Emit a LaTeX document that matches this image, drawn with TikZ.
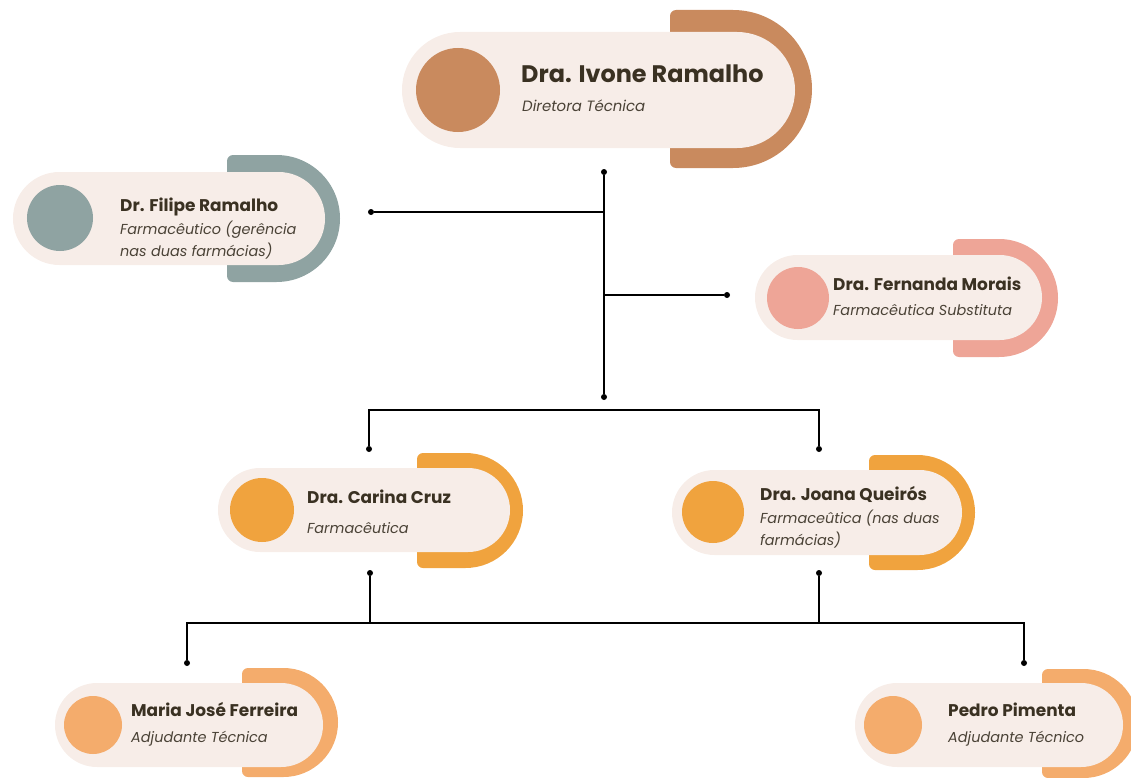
\documentclass[tikz,border=0pt]{standalone}
\usepackage{fontspec}
\setmainfont{Poppins}
\definecolor{pillbg}{HTML}{F7EDE8}
\definecolor{ink}{HTML}{3A3122}
\definecolor{inksub}{HTML}{4A4236}
\definecolor{ivonec}{HTML}{C98A5E}
\definecolor{filipec}{HTML}{8FA3A2}
\definecolor{fernandac}{HTML}{EEA597}
\definecolor{farmac}{HTML}{F0A33E}
\definecolor{adjc}{HTML}{F4AC6C}

\begin{document}
\begin{tikzpicture}[x=1bp,y=-1bp,
  pill/.style={fill=pillbg,inner sep=0pt,rounded corners=#1},
  face/.style={circle,fill=#1,inner sep=0pt},
  personname/.style={anchor=base west,inner sep=0pt,text=ink,font=\bfseries\fontsize{17}{20}\selectfont},
  personrole/.style={anchor=base west,inner sep=0pt,text=inksub,align=left,font=\itshape\fontsize{14.5}{21.5}\selectfont},
  dot/.style={circle,fill=black,inner sep=0pt,minimum size=6bp},
  link/.style={line width=1.3bp,black}]
\useasboundingbox (0,0) rectangle (1131,778);

\fill[ivonec] (676,10) -- (733,10) arc(-90:90:79) -- (676,168) arc(90:180:6) -- (670,16) arc(180:270:6) -- cycle;
\node[pill=58bp,minimum width=393bp,minimum height=116bp] (ivone) at (598.5,90) {};
\node[face=ivonec,minimum size=84bp] (ivoneface) at (458,90) {};
\node[personname,font=\bfseries\fontsize{24}{28}\selectfont] (ivonename) at (521,83) {Dra. Ivone Ramalho};
\node[personrole,font=\itshape\fontsize{15}{18}\selectfont] (ivonerole) at (522,112) {Diretora Técnica};

\fill[filipec] (233,155) -- (276.5,155) arc(-90:90:63.5) -- (233,282) arc(90:180:6) -- (227,161) arc(180:270:6) -- cycle;
\node[pill=46.5bp,minimum width=312bp,minimum height=93bp] (filipe) at (169,218.5) {};
\node[face=filipec,minimum size=66bp] (filipeface) at (60,218) {};
\node[personname] (filipename) at (120,211) {Dr. Filipe Ramalho};
\node[personrole] (filiperole) at (120,256) {Farmacêutico (gerência\\nas duas farmácias)};

\fill[fernandac] (959,239) -- (999,239) arc(-90:90:59) -- (959,357) arc(90:180:6) -- (953,245) arc(180:270:6) -- cycle;
\node[pill=42.5bp,minimum width=287bp,minimum height=85bp] (fernanda) at (898.5,297.5) {};
\node[face=fernandac,minimum size=62bp] (fernandaface) at (798,298) {};
\node[personname] (fernandaname) at (833,290) {Dra. Fernanda Morais};
\node[personrole] (fernandarole) at (833,315) {Farmacêutica Substituta};

\fill[farmac] (423,453) -- (465.5,453) arc(-90:90:57.5) -- (423,568) arc(90:180:6) -- (417,459) arc(180:270:6) -- cycle;
\node[pill=42bp,minimum width=292bp,minimum height=84bp] (carina) at (364,510) {};
\node[face=farmac,minimum size=64bp] (carinaface) at (262,510) {};
\node[personname] (carinaname) at (307,503) {Dra. Carina Cruz};
\node[personrole] (carinarole) at (307,533) {Farmacêutica};

\fill[farmac] (875,455) -- (917.5,455) arc(-90:90:57.5) -- (875,570) arc(90:180:6) -- (869,461) arc(180:270:6) -- cycle;
\node[pill=42.5bp,minimum width=290bp,minimum height=85bp] (joana) at (817,512.5) {};
\node[face=farmac,minimum size=62bp] (joanaface) at (713,512) {};
\node[personname] (joananame) at (760,500) {Dra. Joana Queirós};
\node[personrole] (joanarole) at (760,545) {Farmaceûtica (nas duas\\farmácias)};

\fill[adjc] (248,668) -- (283.5,668) arc(-90:90:54.5) -- (248,777) arc(90:180:6) -- (242,674) arc(180:270:6) -- cycle;
\node[pill=42bp,minimum width=268bp,minimum height=84bp] (maria) at (189,725) {};
\node[face=adjc,minimum size=58bp] (mariaface) at (93,725) {};
\node[personname] (marianame) at (131,716) {Maria José Ferreira};
\node[personrole] (mariarole) at (131,742) {Adjudante Técnica};

\fill[adjc] (1048,669) -- (1083.5,669) arc(-90:90:54.5) -- (1048,778) arc(90:180:6) -- (1042,675) arc(180:270:6) -- cycle;
\node[pill=42bp,minimum width=268bp,minimum height=84bp] (pedro) at (989,725) {};
\node[face=adjc,minimum size=58bp] (pedroface) at (893,725) {};
\node[personname] (pedroname) at (948,716) {Pedro Pimenta};
\node[personrole] (pedrorole) at (948,742) {Adjudante Técnico};

\node[dot] (ivonedot) at (604,172) {};
\node[dot] (trunkdot) at (604,397) {};
\node[dot] (filipedot) at (371,212) {};
\node[dot] (fernandadot) at (727,295) {};
\coordinate (filipejoin) at (604,212);
\coordinate (fernandajoin) at (604,295);
\draw[link] (ivonedot) -- (trunkdot);
\draw[link] (filipedot) -- (filipejoin);
\draw[link] (fernandajoin) -- (fernandadot);

\node[dot] (carinatop) at (369,449) {};
\node[dot] (joanatop) at (819,449) {};
\draw[link] (carinatop) -- ++(0,-39) -| (joanatop);

\node[dot] (carinadot) at (370,573) {};
\node[dot] (joanadot) at (819,573) {};
\node[dot] (mariadot) at (187,663) {};
\node[dot] (pedrodot) at (1024,663) {};
\draw[link] (mariadot) -- ++(0,-40) -| (pedrodot);
\draw[link] (carinadot) -- (carinadot |- 0,623);
\draw[link] (joanadot) -- (joanadot |- 0,623);
\end{tikzpicture}
\end{document}
